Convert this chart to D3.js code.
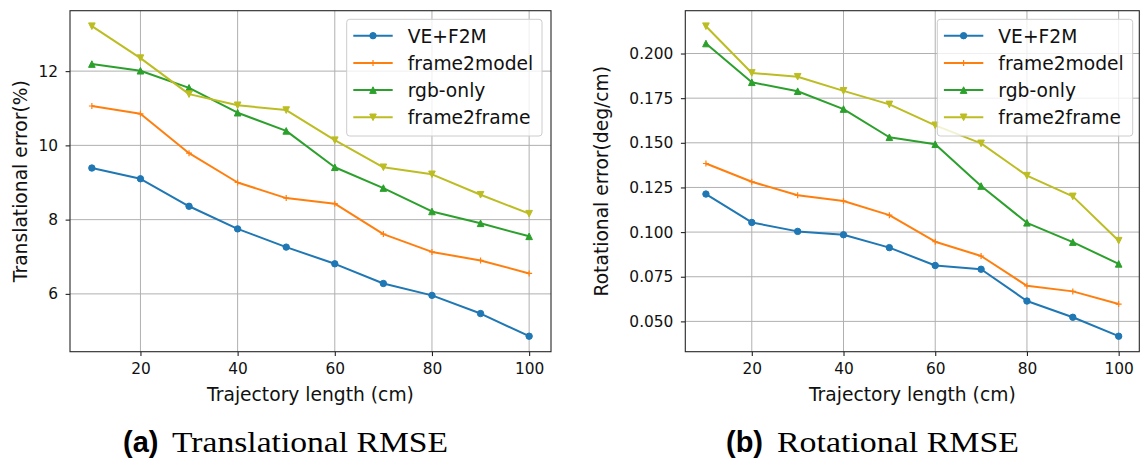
<!DOCTYPE html>
<html>
<head>
<meta charset="utf-8">
<script src="https://cdn.jsdelivr.net/npm/d3@7"></script>
<style>
  body { margin: 0; background: #fff; }
  svg { display: block; }
</style>
</head>
<body>
<svg id="fig" width="1144" height="463"></svg>
<script>
// Trajectory lengths (cm) shared by both panels
const lengths = [10, 20, 30, 40, 50, 60, 70, 80, 90, 100];

const methodNames = ["VE+F2M", "frame2model", "rgb-only", "frame2frame"];
const methodColors = ["#1f77b4", "#ff7f0e", "#2ca02c", "#bcbd22"];
const methodMarkers = ["circle", "plus", "triUp", "triDown"];

// Translational error (%)
const transVEF2M      = [9.39, 9.10, 8.36, 7.75, 7.26, 6.81, 6.28, 5.96, 5.47, 4.86];
const transFrame2Model = [11.06, 10.85, 9.79, 9.00, 8.58, 8.43, 7.61, 7.13, 6.90, 6.55];
const transRgbOnly    = [12.19, 12.01, 11.55, 10.88, 10.39, 9.41, 8.85, 8.22, 7.90, 7.55];
const transFrame2Frame = [13.21, 12.35, 11.38, 11.08, 10.95, 10.14, 9.41, 9.22, 8.67, 8.16];

// Rotational error (deg/cm)
const rotVEF2M       = [0.1213, 0.1054, 0.1004, 0.0985, 0.0913, 0.0813, 0.0792, 0.0614, 0.0523, 0.0417];
const rotFrame2Model = [0.1384, 0.1282, 0.1206, 0.1174, 0.1095, 0.0946, 0.0866, 0.0699, 0.0668, 0.0597];
const rotRgbOnly     = [0.2056, 0.1839, 0.1789, 0.1689, 0.1531, 0.1492, 0.1258, 0.1052, 0.0944, 0.0822];
const rotFrame2Frame = [0.2153, 0.1891, 0.1870, 0.1791, 0.1715, 0.1598, 0.1497, 0.1316, 0.1200, 0.0952];

// Tick values
const lengthTicks = [20, 40, 60, 80, 100];
const transTicks = [6, 8, 10, 12];
const rotTicks = [0.050, 0.075, 0.100, 0.125, 0.150, 0.175, 0.200];

const xLabelText = "Trajectory length (cm)";

const panels = [
  {
    series: [transVEF2M, transFrame2Model, transRgbOnly, transFrame2Frame],
    yTicks: transTicks, yFormat: d3.format("d"),
    yLabel: "Translational error(%)",
    box: { left: 70, right: 551, top: 10.7, bottom: 351.7 },
    yLabelX: 26.5,
    legend: { x: 346.7, y: 19.3, w: 195.3, h: 116.7 },
    tag: "(a)", caption: "Translational RMSE",
    tagX: 123, captionX: 172, captionLen: 276
  },
  {
    series: [rotVEF2M, rotFrame2Model, rotRgbOnly, rotFrame2Frame],
    yTicks: rotTicks, yFormat: d3.format(".3f"),
    yLabel: "Rotational error(deg/cm)",
    box: { left: 685.3, right: 1139.3, top: 10.7, bottom: 351.7 },
    yLabelX: 607.5,
    legend: { x: 937.3, y: 19.3, w: 195.4, h: 116.7 },
    tag: "(b)", caption: "Rotational RMSE",
    tagX: 726, captionX: 777, captionLen: 242
  }
];

const svg = d3.select("#fig");
const FONT = "'DejaVu Sans', sans-serif";
const TICK_LEN = 4.4;

function drawMarker(g, type, color, x, y) {
  if (type === "circle") {
    g.append("circle").attr("cx", x).attr("cy", y).attr("r", 3.2)
      .attr("fill", color).attr("stroke", color).attr("stroke-width", 1);
  } else if (type === "plus") {
    g.append("path").attr("transform", `translate(${x},${y})`)
      .attr("d", "M-3,0H3M0,-3V3")
      .attr("stroke", color).attr("stroke-width", 1.2).attr("fill", "none");
  } else {
    const s = 3.3;
    const d = type === "triUp"
      ? `M0,${-s}L${s},${s}L${-s},${s}Z`
      : `M0,${s}L${s},${-s}L${-s},${-s}Z`;
    g.append("path").attr("transform", `translate(${x},${y})`)
      .attr("d", d).attr("fill", color).attr("stroke", color).attr("stroke-width", 1);
  }
}

panels.forEach(p => {
  const b = p.box;
  const x = d3.scaleLinear().domain([5.5, 104.5]).range([b.left, b.right]);
  const allVals = p.series.flat();
  const [lo, hi] = d3.extent(allVals);
  const pad = (hi - lo) * 0.05;
  const y = d3.scaleLinear().domain([lo - pad, hi + pad]).range([b.bottom, b.top]);

  const g = svg.append("g");

  // grid
  const grid = g.append("g").attr("stroke", "#b0b0b0").attr("stroke-width", 1);
  lengthTicks.forEach(t => {
    grid.append("line").attr("x1", x(t)).attr("x2", x(t))
      .attr("y1", b.top).attr("y2", b.bottom);
  });
  p.yTicks.forEach(t => {
    grid.append("line").attr("y1", y(t)).attr("y2", y(t))
      .attr("x1", b.left).attr("x2", b.right);
  });

  // axes
  const xAxis = d3.axisBottom(x).tickValues(lengthTicks).tickFormat(d3.format("d"))
    .tickSize(TICK_LEN).tickPadding(6.5);
  const yAxis = d3.axisLeft(y).tickValues(p.yTicks).tickFormat(p.yFormat)
    .tickSize(TICK_LEN).tickPadding(7.5);

  const gx = g.append("g").attr("transform", `translate(0,${b.bottom})`).call(xAxis);
  const gy = g.append("g").attr("transform", `translate(${b.left},0)`).call(yAxis);
  [gx, gy].forEach(a => {
    a.select(".domain").remove();
    a.selectAll(".tick line").attr("stroke", "#222").attr("stroke-width", 1.1);
    a.selectAll(".tick text").attr("fill", "#111")
      .style("font-family", FONT).style("font-size", "15.4px");
  });

  // series lines and markers
  p.series.forEach((vals, i) => {
    const color = methodColors[i];
    const pts = lengths.map((l, k) => [x(l), y(vals[k])]);
    g.append("path").attr("d", d3.line()(pts))
      .attr("fill", "none").attr("stroke", color).attr("stroke-width", 2)
      .attr("stroke-linejoin", "round");
    const mg = g.append("g");
    pts.forEach(([px, py]) => drawMarker(mg, methodMarkers[i], color, px, py));
  });

  // frame
  g.append("rect").attr("x", b.left).attr("y", b.top)
    .attr("width", b.right - b.left).attr("height", b.bottom - b.top)
    .attr("fill", "none").attr("stroke", "#262626").attr("stroke-width", 1.1);

  // axis labels
  g.append("text").attr("x", (b.left + b.right) / 2).attr("y", 400.5)
    .attr("text-anchor", "middle").attr("fill", "#111")
    .style("font-family", FONT).style("font-size", "18.7px")
    .text(xLabelText);
  g.append("text")
    .attr("transform", `translate(${p.yLabelX},${(b.top + b.bottom) / 2}) rotate(-90)`)
    .attr("text-anchor", "middle").attr("fill", "#111")
    .style("font-family", FONT).style("font-size", "18.7px")
    .text(p.yLabel);

  // legend
  const L = p.legend;
  const lg = g.append("g");
  lg.append("rect").attr("x", L.x).attr("y", L.y).attr("width", L.w).attr("height", L.h)
    .attr("rx", 3).attr("fill", "#fff").attr("fill-opacity", 0.8)
    .attr("stroke", "#cccccc").attr("stroke-width", 1);
  methodNames.forEach((name, i) => {
    const cy = L.y + 16.4 + i * 27.2;
    const x0 = L.x + 6.6, x1 = L.x + 46;
    lg.append("line").attr("x1", x0).attr("x2", x1).attr("y1", cy).attr("y2", cy)
      .attr("stroke", methodColors[i]).attr("stroke-width", 2);
    drawMarker(lg, methodMarkers[i], methodColors[i], (x0 + x1) / 2, cy);
    lg.append("text").attr("x", L.x + 61).attr("y", cy + 6.8)
      .attr("fill", "#111").style("font-family", FONT).style("font-size", "18.7px")
      .text(name);
  });

  // caption
  g.append("text").attr("x", p.tagX).attr("y", 451.5)
    .attr("fill", "#000")
    .style("font-family", "'Liberation Sans', Arial, sans-serif")
    .style("font-weight", "bold").style("font-size", "29px")
    .text(p.tag);
  g.append("text").attr("x", p.captionX).attr("y", 451.5)
    .attr("fill", "#000")
    .attr("textLength", p.captionLen).attr("lengthAdjust", "spacingAndGlyphs")
    .style("font-family", "'Liberation Serif', 'DejaVu Serif', serif")
    .style("font-size", "30px")
    .text(p.caption);
});
</script>
</body>
</html>
